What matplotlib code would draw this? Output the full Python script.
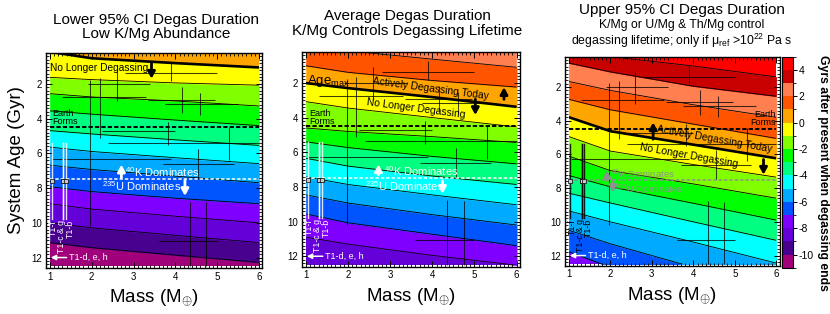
import numpy as np
import matplotlib
matplotlib.use('Agg')
import matplotlib.pyplot as plt
from matplotlib.colors import ListedColormap, BoundaryNorm
from matplotlib.colorbar import ColorbarBase
from matplotlib.patches import Rectangle
from matplotlib.ticker import MultipleLocator

plt.rcParams['font.family'] = ['Liberation Sans', 'DejaVu Sans']
plt.rcParams['mathtext.fontset'] = 'custom'
plt.rcParams['mathtext.rm'] = 'Liberation Sans'
plt.rcParams['mathtext.it'] = 'Liberation Sans:italic'
plt.rcParams['mathtext.bf'] = 'Liberation Sans:bold'
plt.rcParams['axes.unicode_minus'] = False

# colour bands: Gyrs after present when degassing ends
levels = np.arange(-11, 6)
level_colors = ['#a0007a', '#48008e', '#6400d8', '#8000ff', '#0055ff', '#00aaff',
                '#00ffff', '#00ff80', '#00ff00', '#80ff00', '#ffff00', '#ffa500',
                '#ff5500', '#ff7f50', '#c80000', '#ff0000']
cbar_ticks = [4, 2, 0, -2, -4, -6, -8, -10]

# contour lines: system age (Gyr) of each level at these masses
grid_mass = [1, 2, 4, 6]
lower_lines = {
    0: [0.15, 0.52, 0.80, 1.05],
    -1: [1.62, 1.75, 1.94, 2.07],
    -2: [2.56, 2.75, 2.98, 3.27],
    -3: [3.55, 3.74, 4.08, 4.40],
    -4: [4.69, 4.88, 5.22, 5.54],
    -5: [5.64, 5.89, 6.25, 6.59],
    -6: [6.68, 6.93, 7.31, 7.69],
    -7: [7.92, 8.20, 8.58, 8.90],
    -8: [8.90, 9.21, 9.62, 10.00],
    -9: [10.00, 10.29, 10.72, 11.14],
    -10: [11.14, 11.43, 11.86, 12.28],
}
average_lines = {
    2: [-0.30, 0.15, 0.63, 1.10],
    1: [1.01, 1.39, 1.86, 2.24],
    0: [2.01, 2.30, 2.82, 3.38],
    -1: [3.08, 3.45, 4.00, 4.54],
    -2: [4.60, 4.80, 5.10, 5.44],
    -3: [5.40, 5.73, 6.24, 6.67],
    -4: [6.35, 6.80, 7.37, 7.86],
    -5: [7.42, 7.86, 8.46, 9.03],
    -6: [8.46, 8.93, 9.60, 10.20],
    -7: [9.56, 10.07, 10.73, 11.39],
    -8: [10.90, 11.30, 11.95, 12.52],
}
upper_lines = {
    4: [-0.30, 0.20, 0.75, 1.40],
    3: [0.58, 1.10, 1.95, 2.55],
    2: [1.67, 2.20, 3.05, 3.80],
    1: [2.73, 3.35, 4.20, 5.05],
    0: [3.79, 4.62, 5.42, 6.23],
    -1: [4.94, 5.80, 6.60, 7.35],
    -2: [6.10, 6.96, 7.75, 8.60],
    -3: [7.25, 7.92, 8.90, 9.90],
    -4: [8.30, 8.88, 10.00, 11.10],
    -5: [9.35, 10.00, 11.20, 12.45],
    -6: [10.50, 11.30, 12.70, 14.00],
    -7: [11.77, 12.70, 14.00, 15.00],
}

# planets with mass / age uncertainties
pl_mass = np.array([3.90, 2.60, 2.20, 4.15, 4.60, 3.83, 5.29, 1.97, 4.55, 4.35, 4.74])
pl_mass_lo = np.array([2.80, 1.90, 1.30, 3.35, 3.75, 2.25, 2.40, 1.05, 3.70, 3.60, 4.74])
pl_mass_hi = np.array([5.00, 3.40, 3.30, 4.95, 5.50, 4.00, 6.00, 3.90, 5.40, 5.00, 4.74])
pl_age = np.array([1.39, 2.01, 2.75, 2.90, 3.15, 4.70, 5.38, 6.30, 6.60, 11.05, 11.00])
pl_age_lo = np.array([0.75, 1.10, 1.65, 2.18, 2.55, 4.17, 4.46, 1.75, 5.75, 8.78, 8.80])
pl_age_hi = np.array([1.85, 3.00, 5.10, 3.65, 3.78, 5.50, 6.40, 10.20, 7.45, 12.50, 12.50])

# TRAPPIST-1 f, c, g, b
t1_mass = [1.039, 1.308, 1.321, 1.374]
t1_age = 7.6
t1_age_err = 2.2

earth_age = 4.5
k_u_cross = 7.5
age_top, age_bot = 0.3, 12.5

fig = plt.figure(figsize=(8.3, 3.14), dpi=100)
W, H = 830.0, 314.0


def box(l, t, r, b):
    return [l / W, 1 - b / H, (r - l) / W, (b - t) / H]


ax1 = fig.add_axes(box(45.7, 52.7, 262.3, 268.3))
ax2 = fig.add_axes(box(301.7, 51.7, 520.0, 267.0))
ax3 = fig.add_axes(box(564.7, 56.7, 779.7, 266.0))
cax = fig.add_axes(box(782.0, 56.7, 793.0, 267.7))


def draw_field(ax, lines):
    m = np.array(grid_mass, float)
    keys = sorted(lines)
    edges = [np.full(m.size, 40.0)] + [np.asarray(lines[k], float) for k in keys] + [np.full(m.size, -40.0)]
    clip = Rectangle((1, age_top), 5, age_bot - age_top, transform=ax.transData, fc='none', ec='none')
    ax.add_patch(clip)
    for i in range(len(edges) - 1):
        lev = keys[0] - 1 + i
        c = level_colors[lev - levels[0]]
        pc = ax.fill_between(m, edges[i + 1], edges[i], color=c, lw=0.4, ec=c)
        pc.set_clip_path(clip)
    for k in keys:
        ln, = ax.plot(m, lines[k], color='k', lw=1.9 if k == 0 else 0.6, solid_capstyle='butt')
        ln.set_clip_path(clip)


def arrow(ax, x, y0, y1, color='k', lw=2.0):
    ax.annotate('', xy=(x, y1), xytext=(x, y0),
                arrowprops=dict(arrowstyle='-|>,head_width=0.22,head_length=0.4', color=color,
                                lw=lw, shrinkA=0, shrinkB=0))


def common(ax, lines, t1_color, ku_color):
    draw_field(ax, lines)
    ax.plot([1, 6], [earth_age, earth_age], color='k', lw=1.4, dashes=(2.2, 1.1))
    ax.plot([1, 6], [k_u_cross, k_u_cross], color=ku_color, lw=1.1, dashes=(2.2, 1.3))
    ax.errorbar(pl_mass, pl_age,
                xerr=[pl_mass - pl_mass_lo, pl_mass_hi - pl_mass],
                yerr=[pl_age - pl_age_lo, pl_age_hi - pl_age],
                fmt='none', ecolor='k', elinewidth=0.75, capsize=0, alpha=0.75)
    for m in t1_mass:
        ax.plot([m, m], [t1_age - t1_age_err, t1_age + t1_age_err], color=t1_color, lw=1.0, alpha=0.85)
    ax.plot(t1_mass, [t1_age] * len(t1_mass), 's', ms=3.2, mfc='#c8c8c8', mec='k', mew=0.5)
    lab_c = 'white' if t1_color == 'white' else 'k'
    for m, name in zip([1.08, 1.27, 1.48], ['T1-f', 'T1-c & g', 'T1-b']):
        ax.text(m, 9.85, name, rotation=90, ha='center', va='top', fontsize=6.3, color=lab_c)
    ax.annotate('', xy=(1.02, 12.0), xytext=(1.40, 12.0),
                arrowprops=dict(arrowstyle='-|>,head_width=0.15,head_length=0.3', color='white',
                                lw=1.1, shrinkA=0, shrinkB=0))
    ax.text(1.45, 12.0, 'T1-d, e, h', ha='left', va='center', fontsize=6.5, color='white')

    ax.set_xlim(0.9, 6.08)
    ax.set_ylim(12.62, 0.2)
    ax.xaxis.set_major_locator(MultipleLocator(1))
    ax.xaxis.set_minor_locator(MultipleLocator(0.1))
    ax.yaxis.set_major_locator(MultipleLocator(2))
    ax.yaxis.set_minor_locator(MultipleLocator(0.2))
    ax.tick_params(which='both', direction='in', top=True, right=True, labelsize=7, pad=2.5)
    ax.tick_params(which='major', length=4, width=0.7)
    ax.tick_params(which='minor', length=2.2, width=0.6)
    for s in ax.spines.values():
        s.set_linewidth(1.0)
    ax.set_xlabel(r'Mass (M$_{\oplus}$)', fontsize=13.5, labelpad=4)


# ---- panel 1 ----
common(ax1, lower_lines, 'white', 'white')
ax1.set_ylabel('System Age (Gyr)', fontsize=13.5, labelpad=5)
ax1.text(1.0, 1.06, 'No Longer Degassing', fontsize=7.3, ha='left', va='center')
arrow(ax1, 3.43, 0.8, 1.7)
ax1.text(1.05, 3.95, 'Earth\nForms', fontsize=6.5, ha='left', va='center', linespacing=0.9)
arrow(ax1, 2.71, 7.4, 6.65, color='white')
ax1.text(2.8, 7.05, r'$^{40}$K Dominates', fontsize=8, color='white', ha='left', va='center')
ax1.text(2.24, 7.9, r'$^{235}$U Dominates', fontsize=8, color='white', ha='left', va='center')
arrow(ax1, 4.23, 7.55, 8.45, color='white')
fig.text(156 / W, 1 - 20 / H, 'Lower 95% CI Degas Duration', fontsize=11, ha='center', va='center')
fig.text(156 / W, 1 - 34 / H, 'Low K/Mg Abundance', fontsize=11, ha='center', va='center')

# ---- panel 2 ----
common(ax2, average_lines, 'white', 'white')
ax2.text(1.03, 2.05, r'Age$_{\mathregular{max}}$', fontsize=9.5, ha='left', va='baseline')
ax2.text(3.95, 2.33, 'Actively Degassing Today', fontsize=7.4, rotation=-7.5, ha='center', va='center')
arrow(ax2, 5.7, 2.95, 2.25)
ax2.text(3.6, 3.5, 'No Longer Degassing', fontsize=7.4, rotation=-7.5, ha='center', va='center')
arrow(ax2, 5.02, 2.95, 3.85)
ax2.text(1.08, 4.0, 'Earth\nForms', fontsize=6.5, ha='left', va='center', linespacing=0.9)
arrow(ax2, 2.72, 7.3, 6.7, color='white')
ax2.text(2.85, 7.1, r'$^{40}$K Dominates', fontsize=8, color='white', ha='left', va='center')
ax2.text(2.4, 7.98, r'$^{235}$U Dominates', fontsize=8, color='white', ha='left', va='center')
arrow(ax2, 4.24, 7.65, 8.4, color='white')
fig.text(407 / W, 1 - 16 / H, 'Average Degas Duration', fontsize=11, ha='center', va='center')
fig.text(407 / W, 1 - 31 / H, 'K/Mg Controls Degassing Lifetime', fontsize=11, ha='center', va='center')

# ---- panel 3 ----
common(ax3, upper_lines, 'k', '#909090')
ax3.text(4.5, 5.08, 'Actively Degassing Today', fontsize=7.4, rotation=-10, ha='center', va='center')
arrow(ax3, 3.03, 5.1, 4.1)
ax3.text(3.9, 6.05, 'No Longer Degassing', fontsize=7.4, rotation=-10, ha='center', va='center')
arrow(ax3, 5.69, 6.3, 7.2)
ax3.text(5.98, 3.86, 'Earth\nForms', fontsize=6.5, ha='right', va='center', linespacing=0.9)
arrow(ax3, 1.92, 7.55, 6.95, color='#909090', lw=1.8)
ax3.text(2.02, 7.2, r'$^{40}$K Dominates', fontsize=6.8, color='#909090', ha='left', va='center')
ax3.text(2.12, 8.08, r'$^{235}$U Dominates', fontsize=6.8, color='#909090', ha='left', va='center')
arrow(ax3, 2.06, 7.62, 8.25, color='#909090', lw=1.8)
fig.text(682 / W, 1 - 10 / H, 'Upper 95% CI Degas Duration', fontsize=11, ha='center', va='center')
fig.text(682 / W, 1 - 25 / H, 'K/Mg or U/Mg & Th/Mg control', fontsize=8.8, ha='center', va='center')
fig.text(682 / W, 1 - 41 / H, r'degassing lifetime; only if μ$_{\mathregular{ref}}$ >10$^{22}$ Pa s',
         fontsize=8.8, ha='center', va='center')

# ---- colour bar ----
cmap = ListedColormap(level_colors)
norm = BoundaryNorm(levels, cmap.N)
cb = ColorbarBase(cax, cmap=cmap, norm=norm, ticks=cbar_ticks, orientation='vertical')
cb.outline.set_linewidth(0.8)
cax.tick_params(labelsize=7.5, length=3, width=0.7, pad=1)
fig.text(823 / W, 1 - 173 / H, 'Gyrs after present when degassing ends', rotation=-90,
         fontsize=8.8, fontweight='bold', ha='center', va='center')

fig.savefig('out.png', dpi=100)
